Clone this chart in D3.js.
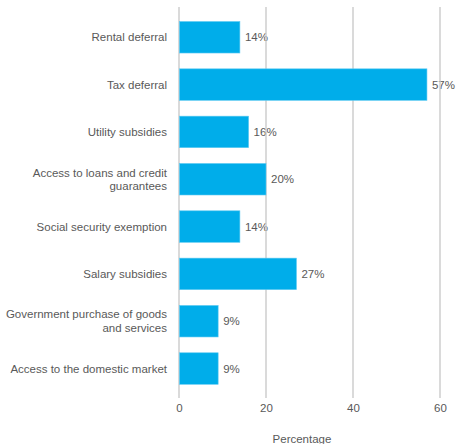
<!DOCTYPE html>
<html>
<head>
<meta charset="utf-8">
<script src="https://cdn.jsdelivr.net/npm/d3@7"></script>
<style>
  html, body { margin: 0; padding: 0; background: #fff; }
  svg { display: block; font-family: "Liberation Sans", Arial, sans-serif; }
</style>
</head>
<body>
<svg id="chart" width="459" height="444"></svg>
<script>
// Support measures and share of respondents (%)
const categories = [
  ["Rental deferral"],
  ["Tax deferral"],
  ["Utility subsidies"],
  ["Access to loans and credit", "guarantees"],
  ["Social security exemption"],
  ["Salary subsidies"],
  ["Government purchase of goods", "and services"],
  ["Access to the domestic market"]
];
const values = [14, 57, 16, 20, 14, 27, 9, 9];
const xTicks = [0, 20, 40, 60];
const axisTitle = "Percentage";

const svg = d3.select("#chart");
const textColor = "#595959";
const gridColor = "#c6c6c6";
const barColor = "#00adea";
const fontSize = 11.5;

const x = d3.scaleLinear().domain([0, 60]).range([179, 440]);
const y = d3.scaleBand()
  .domain(d3.range(categories.length))
  .range([13.6, 392.2])
  .paddingInner(0.334)
  .paddingOuter(0.167);

const gridTop = 7, gridBottom = 398;

// value labels (drawn first so the grid sits over them)
svg.append("g").selectAll("text")
  .data(values)
  .join("text")
  .attr("x", d => x(d) + 5)
  .attr("y", (d, i) => y(i) + y.bandwidth() / 2)
  .attr("dy", "0.35em")
  .attr("font-size", fontSize)
  .attr("fill", textColor)
  .text(d => d + "%");

// vertical grid lines
svg.append("g").selectAll("line")
  .data(xTicks)
  .join("line")
  .attr("x1", d => x(d)).attr("x2", d => x(d))
  .attr("y1", gridTop).attr("y2", gridBottom)
  .attr("stroke", gridColor)
  .attr("stroke-width", 1.3);

// bars
svg.append("g").selectAll("rect")
  .data(values)
  .join("rect")
  .attr("x", x(0) + 0.5)
  .attr("y", (d, i) => y(i))
  .attr("width", d => x(d) - x(0) - 0.5)
  .attr("height", y.bandwidth())
  .attr("fill", barColor)
  .attr("stroke", "#5fcaf2")
  .attr("stroke-width", 0.6);

// category labels
const catG = svg.append("g");
categories.forEach((lines, i) => {
  const cy = y(i) + y.bandwidth() / 2;
  const lh = 13.5;
  const t = catG.append("text")
    .attr("text-anchor", "end")
    .attr("font-size", fontSize)
    .attr("fill", textColor);
  lines.forEach((ln, j) => {
    t.append("tspan")
      .attr("x", 167)
      .attr("y", cy + (j - (lines.length - 1) / 2) * lh)
      .attr("dy", "0.35em")
      .text(ln);
  });
});

// x axis tick labels
const xAxis = d3.axisBottom(x).tickValues(xTicks).tickSize(0).tickPadding(0);
const ax = svg.append("g")
  .attr("transform", `translate(0, ${gridBottom + 6})`)
  .call(xAxis);
ax.select(".domain").remove();
ax.selectAll("text")
  .attr("font-size", fontSize)
  .attr("font-family", "Liberation Sans, Arial, sans-serif")
  .attr("fill", textColor);

// axis title
svg.append("text")
  .attr("x", 302)
  .attr("y", 443)
  .attr("text-anchor", "middle")
  .attr("font-size", fontSize)
  .attr("fill", textColor)
  .text(axisTitle);
</script>
</body>
</html>
